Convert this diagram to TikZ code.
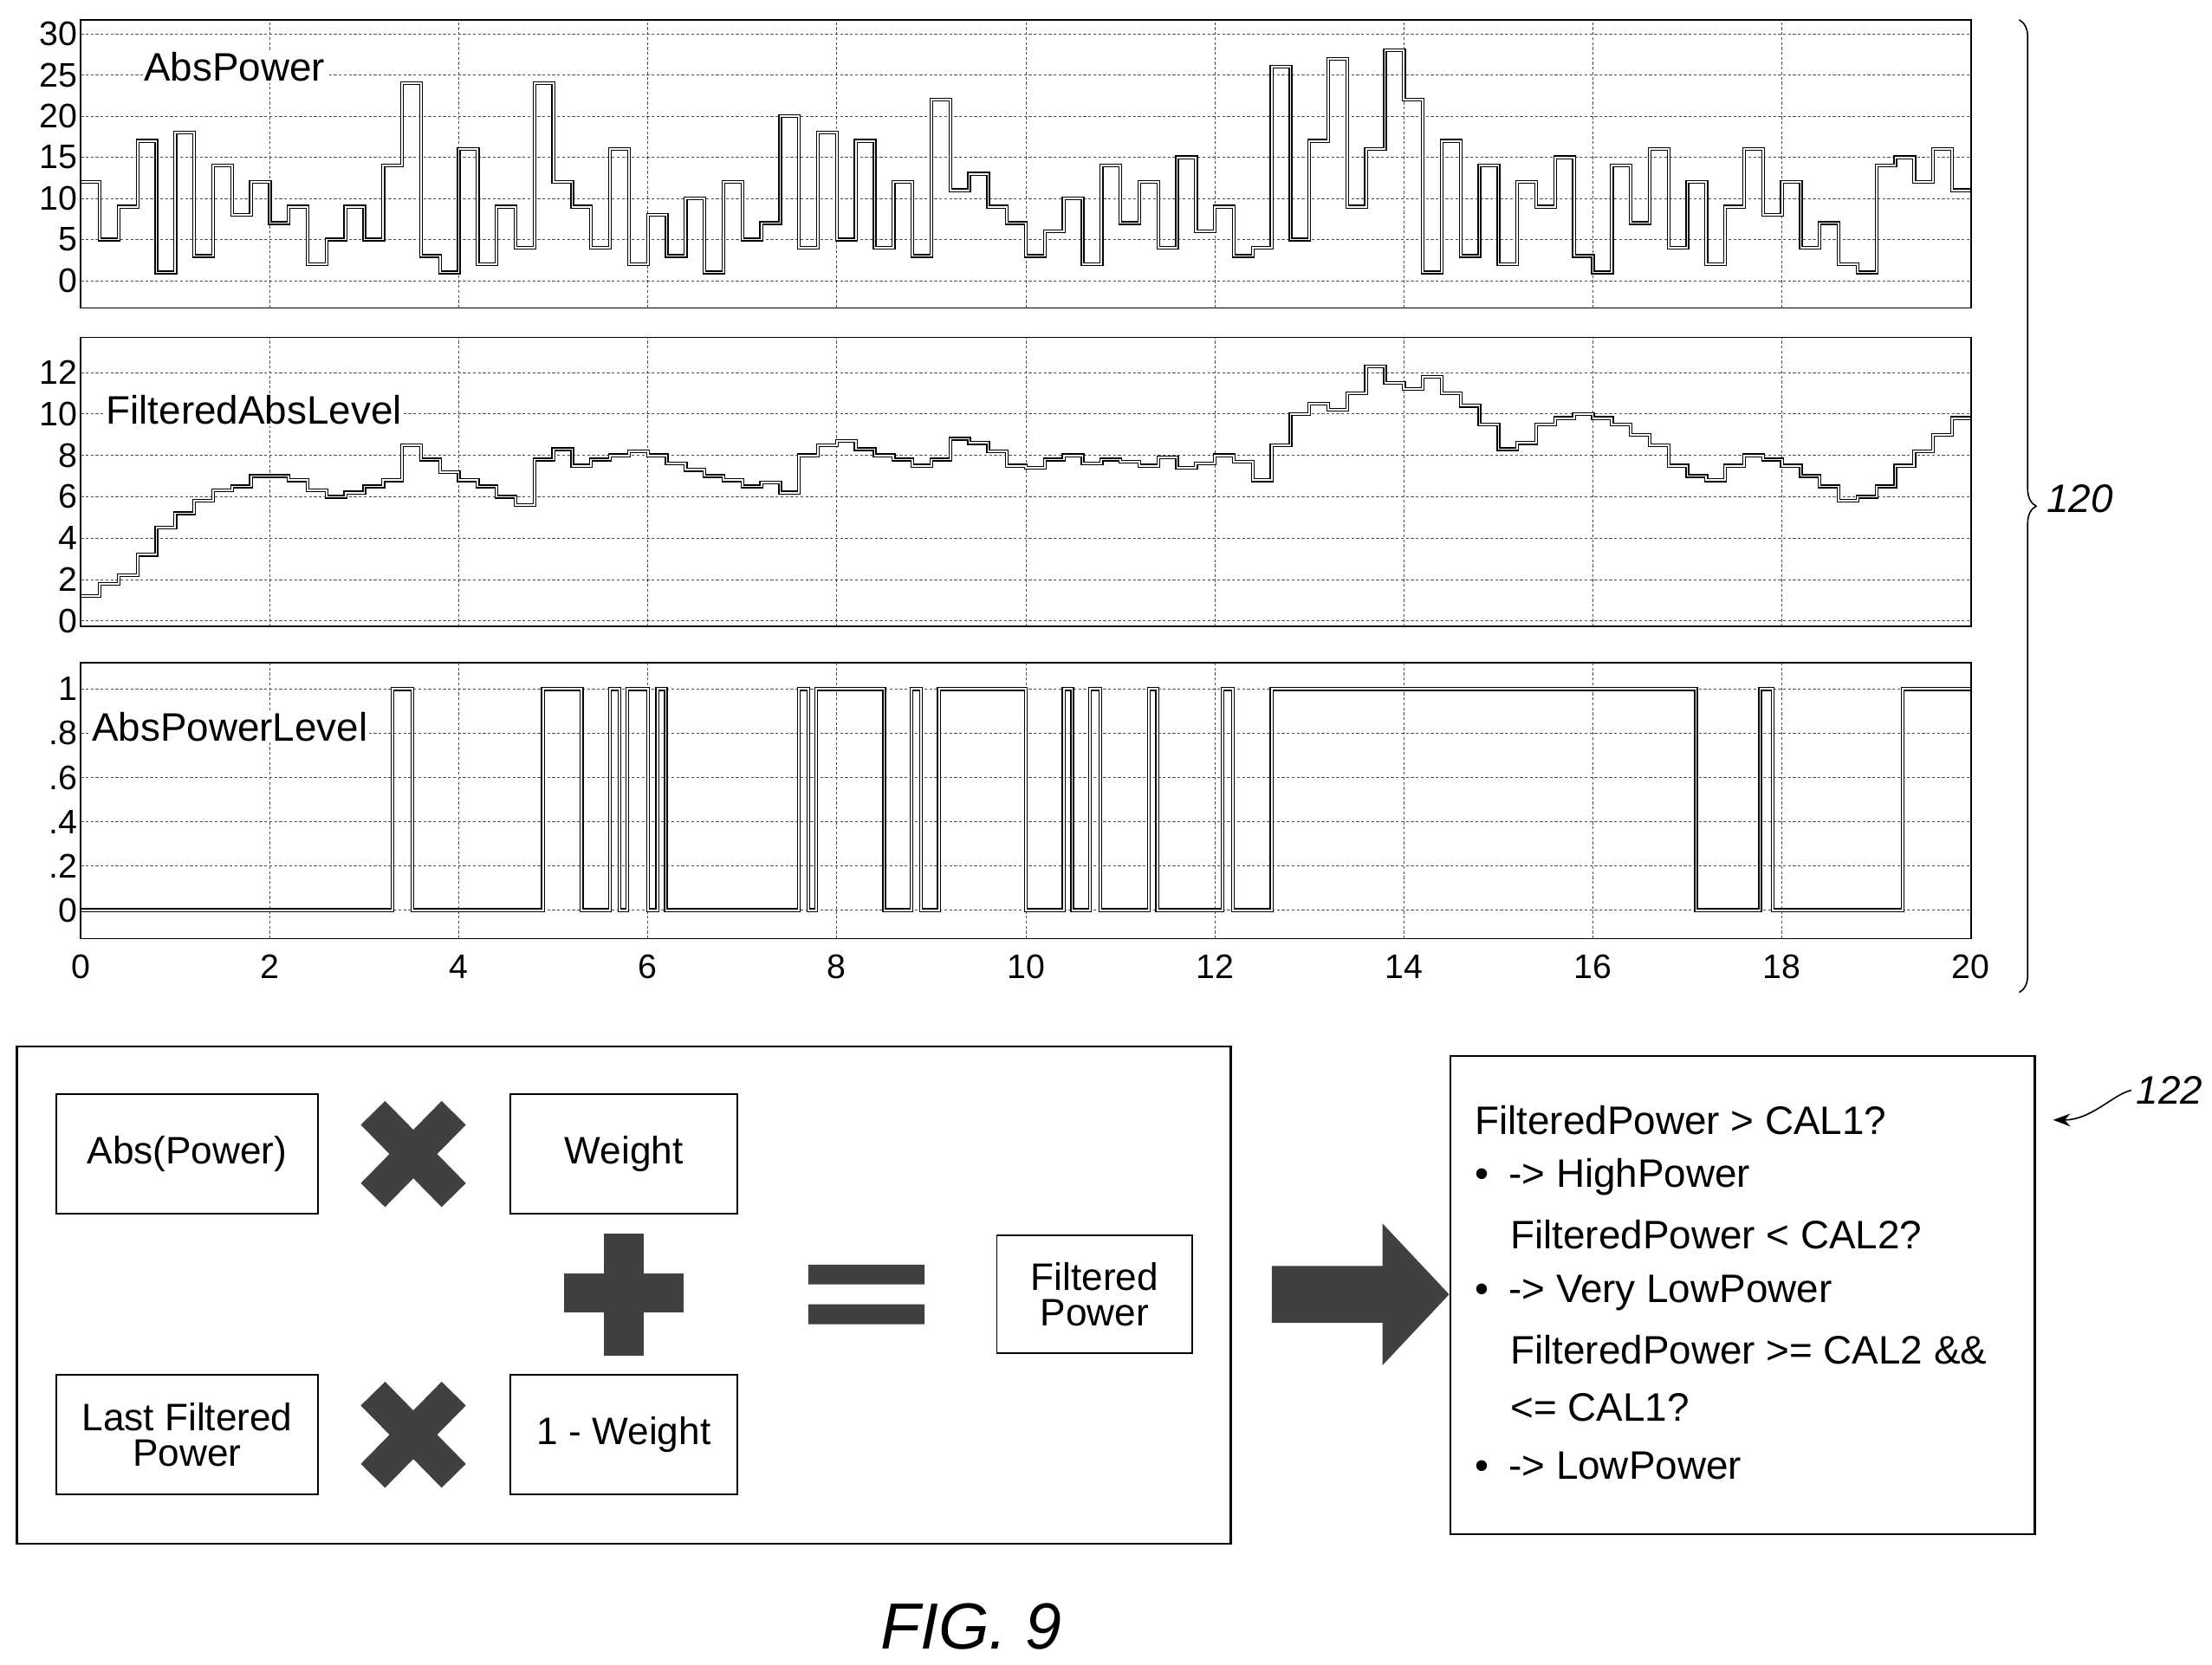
\documentclass[tikz,border=0pt]{standalone}
\usepackage{fontspec}
\setmainfont{Liberation Sans}
\usetikzlibrary{decorations.pathreplacing,arrows.meta}
\tikzset{
  grid line/.style={black!70,dash pattern=on 2pt off 1.5pt,line width=0.6pt},
  frame/.style={draw,line width=1pt},
  signal/.style={draw,double=white,double distance=1.1pt,line width=0.8pt,line join=miter},
  tick/.style={anchor=east,font=\fontsize{24}{24}\selectfont,inner sep=2pt},
  plot label/.style={anchor=west,fill=white,inner sep=1pt,font=\fontsize{28}{28}\selectfont},
  box/.style={draw,line width=1.2pt,minimum width=184pt,minimum height=84pt,align=center,
    font=\fontsize{27}{25}\selectfont},
  op sign/.style={black!75,line width=24pt},
  rule/.style={anchor=west,inner sep=0pt,font=\fontsize{28}{28}\selectfont}
}
\begin{document}
\begin{tikzpicture}[x=1pt,y=-1pt]
  \useasboundingbox (0,0) rectangle (1560,1174);
  % AbsPower
  \begin{scope}[shift={(57pt,-198pt)},x=66.65pt,y=5.8pt]
    \foreach \v in {0,5,...,30} {
      \draw[grid line] (0,\v) -- (20,\v);
      \node[tick] at (0,\v) {\v};
    }
    \foreach \u in {2,4,...,18} \draw[grid line] (\u,-3.3) -- (\u,31.7);
    \draw[signal] (0,12)
      \foreach \v [count=\i from 0] in {12,5,9,17,1,18,3,14,8,12,
        7,9,2,5,9,5,14,24,3,1, 16,2,9,4,24,12,9,4,16,2,
        8,3,10,1,12,5,7,20,4,18, 5,17,4,12,3,22,11,13,9,7,
        3,6,10,2,14,7,12,4,15,6, 9,3,4,26,5,17,27,9,16,28,
        22,1,17,3,14,2,12,9,15,3, 1,14,7,16,4,12,2,9,16,8,
        12,4,7,2,1,14,15,12,16,11} { -- (\i*0.2,\v) -- (\i*0.2+0.2,\v) };
    \draw[frame] (0,-3.3) rectangle (20,31.7);
    \node[plot label] (absp) at (0.65,26) {AbsPower};
  \end{scope}
  % FilteredAbsLevel
  \begin{scope}[shift={(57pt,-438pt)},x=66.65pt,y=14.6pt]
    \foreach \v in {0,2,...,12} {
      \draw[grid line] (0,\v) -- (20,\v);
      \node[tick] at (0,\v) {\v};
    }
    \foreach \u in {2,4,...,18} \draw[grid line] (\u,-0.27) -- (\u,13.7);
    \draw[signal] (0,1.2)
      \foreach \v [count=\i from 0] in {1.2,1.8,2.2,3.2,4.5,5.2,5.8,6.3,6.5,7,
        7,6.8,6.3,6,6.2,6.5,6.8,8.5,7.8,7.2, 6.8,6.5,6,5.6,7.8,8.3,7.5,7.8,8,8.2,
        8,7.6,7.3,7,6.8,6.5,6.7,6.2,8,8.5, 8.7,8.3,8,7.8,7.5,7.8,8.8,8.6,8.2,7.5,
        7.4,7.8,8,7.6,7.8,7.7,7.5,7.9,7.4,7.6, 8,7.7,6.8,8.5,10,10.5,10.2,11,12.3,11.5,
        11.2,11.8,11,10.4,9.5,8.3,8.6,9.5,9.8,10, 9.8,9.5,9,8.5,7.5,7,6.8,7.5,8,7.8,
        7.5,7,6.5,5.8,6,6.5,7.5,8.2,9,9.8} { -- (\i*0.2,\v) -- (\i*0.2+0.2,\v) };
    \draw[frame] (0,-0.27) rectangle (20,13.7);
    \node[plot label] (filt) at (0.25,10.2) {FilteredAbsLevel};
  \end{scope}
  % AbsPowerLevel
  \begin{scope}[shift={(57pt,-642pt)},x=66.65pt,y=156pt]
    \foreach \v/\t in {0/0,0.2/.2,0.4/.4,0.6/.6,0.8/.8,1/1} {
      \draw[grid line] (0,\v) -- (20,\v);
      \node[tick] at (0,\v) {\t};
    }
    \foreach \u in {2,4,...,18} \draw[grid line] (\u,-0.128) -- (\u,1.12);
    \draw[signal] (0,0)
      \foreach \a/\b in {3.30/3.51,4.89/5.30,5.60/5.70,5.78/6.00,6.10/6.19,
        7.60/7.70,7.78/8.50,8.79/8.89,9.08/10.0,10.40/10.49,10.68/10.79,
        11.30/11.39,12.08/12.19,12.60/17.09,17.77/17.90}
        { -- (\a,0) -- (\a,1) -- (\b,1) -- (\b,0) }
      -- (19.28,0) -- (19.28,1) -- (20,1);
    \draw[frame] (0,-0.128) rectangle (20,1.12);
    \node[plot label] (lvl) at (0.1,0.83) {AbsPowerLevel};
    \foreach \u in {0,2,...,20}
      \node[font=\fontsize{24}{24}\selectfont,anchor=north] at (\u,-0.18) {\u};
  \end{scope}
  % brace 120
  \draw[decorate,decoration={brace,amplitude=12pt},line width=1pt] (1424,14) -- (1424,700);
  \node[font=\itshape\fontsize{28}{28}\selectfont,anchor=west] (n120) at (1440,352) {120};
  % formula panel
  \draw[frame,line width=1.4pt] (12,738) rectangle (868,1089);
  \node[box] (abs) at (132,814) {Abs(Power)};
  \node[box,minimum width=160pt] (wt) at (440,814) {Weight};
  \node[box] (last) at (132,1012) {Last Filtered\\Power};
  \node[box,minimum width=160pt] (onew) at (440,1012) {1 - Weight};
  \node[box,minimum width=138pt,minimum height=83pt] (filtp) at (772,913) {Filtered\\Power};
  \foreach \y in {814,1012} {
    \draw[op sign] (263,\y-29) -- (320,\y+29);
    \draw[op sign] (263,\y+29) -- (320,\y-29);
  }
  \draw[op sign,line width=28pt] (440,870) -- (440,956);
  \draw[op sign,line width=28pt] (398,912) -- (482,912);
  \fill[black!75] (570,892) rectangle (652,906) (570,920) rectangle (652,934);
  \fill[black!75] (897,893) -- (975,893) -- (975,863) -- (1022,913) -- (975,963) -- (975,933) -- (897,933) -- cycle;
  % decision box
  \node[draw,line width=1.4pt,minimum width=412pt,minimum height=337pt] (dec) at (1229,913.5) {};
  \node[rule] (r1) at (1040,790) {FilteredPower > CAL1?};
  \node[rule] (r2) at (1040,830) {\textbullet\hspace{14pt}-> HighPower};
  \node[rule] (r3) at (1065,871) {FilteredPower < CAL2?};
  \node[rule] (r4) at (1040,912) {\textbullet\hspace{14pt}-> Very LowPower};
  \node[rule] (r5) at (1065,952) {FilteredPower >= CAL2 \&\&};
  \node[rule] (r6) at (1065,993) {<= CAL1?};
  \node[rule] (r7) at (1040,1034) {\textbullet\hspace{14pt}-> LowPower};
  \node[font=\itshape\fontsize{28}{28}\selectfont] (n122) at (1530,769) {122};
  \coordinate (tip122) at (1448,790);
  \draw[line width=1pt,-{Stealth[length=12pt]}] (n122.west) .. controls (1490,772) and (1475,790) .. (tip122);
  \node[font=\itshape\fontsize{46}{46}\selectfont] (fig) at (685,1147) {FIG. 9};
\end{tikzpicture}
\end{document}
